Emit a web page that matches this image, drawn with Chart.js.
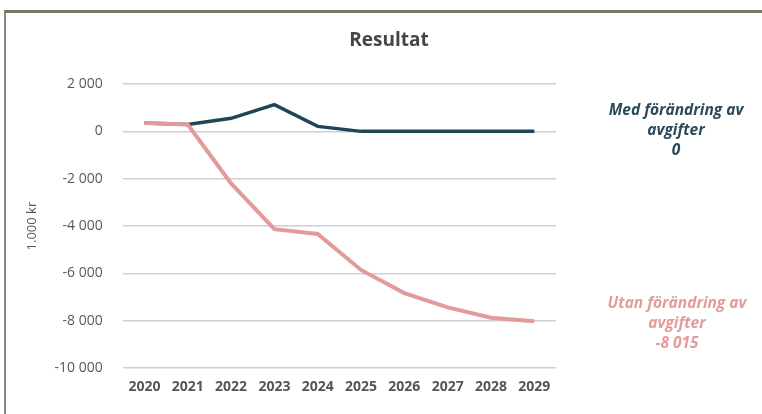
<!DOCTYPE html>
<html>
<head>
<meta charset="utf-8">
<script src="https://cdn.jsdelivr.net/npm/chart.js@4"></script>
<style>
  html, body { margin: 0; padding: 0; background: #fff; }
  #wrap { position: relative; width: 762px; height: 414px; overflow: hidden; }
  #frame { position: absolute; left: 4px; top: 10px; width: 770px; height: 420px;
           border-top: 3px solid #77776a; border-left: 2px solid #8a8a7c; }
  canvas { position: absolute; left: 0; top: 0; }
  #title { position: absolute; left: 289px; top: 26px; width: 200px; text-align: center;
           font-family: "Open Sans", sans-serif; font-weight: bold; font-size: 19px; color: #454545; }
  .note { position: absolute; width: 220px; text-align: center; font-family: "Open Sans", sans-serif;
          font-style: italic; font-weight: bold; font-size: 15.5px; line-height: 20px; }
  #med { left: 566px; top: 99px; color: #2b4a5a; }
  #utan { left: 567px; top: 292px; color: #e29c9c; }
</style>
</head>
<body>
<div id="wrap">
  <div id="frame"></div>
  <canvas id="resultChart" width="762" height="414"></canvas>
  <div id="title">Resultat</div>
  <div class="note" id="med">Med förändring av<br>avgifter<br>0</div>
  <div class="note" id="utan">Utan förändring av<br>avgifter<br>-8 015</div>
</div>
<script>
// Data
const years = ['2020', '2021', '2022', '2023', '2024', '2025', '2026', '2027', '2028', '2029'];
const medForandring = [350, 290, 550, 1130, 210, 0, 0, 0, 0, 0];
const utanForandring = [350, 290, -2200, -4130, -4330, -5850, -6830, -7430, -7870, -8015];

function formatKr(v) {
    const s = Math.abs(v).toString().replace(/\B(?=(\d{3})+(?!\d))/g, ' ');
    return (v < 0 ? '-' : '') + s;
}

const ctx = document.getElementById('resultChart').getContext('2d');
new Chart(ctx, {
    type: 'line',
    data: {
        labels: years,
        datasets: [
            {
                label: 'Utan förändring av avgifter',
                data: utanForandring,
                borderColor: '#e39a9a',
                borderWidth: 4,
                pointRadius: 0,
                tension: 0,
                order: 0
            },
            {
                label: 'Med förändring av avgifter',
                data: medForandring,
                borderColor: '#1f4558',
                borderWidth: 3.5,
                pointRadius: 0,
                tension: 0,
                order: 1
            }
        ]
    },
    options: {
        responsive: false,
        animation: false,
        layout: { padding: { left: 20, right: 206, top: 84, bottom: 17 } },
        plugins: {
            legend: { display: false },
            tooltip: { enabled: false },
            title: { display: false }
        },
        scales: {
            x: {
                offset: true,
                grid: { display: false },
                border: { display: false },
                ticks: {
                    color: '#555',
                    font: { family: 'Open Sans', size: 14, weight: 'bold' },
                    padding: 2
                }
            },
            y: {
                min: -10000,
                max: 2000,
                afterFit: scale => { scale.width -= 10; },
                grid: { color: '#cfcfcf', lineWidth: 1.5, drawTicks: false },
                border: { display: false },
                ticks: {
                    stepSize: 2000,
                    color: '#595959',
                    font: { family: 'Open Sans', size: 14 },
                    padding: 20,
                    callback: v => formatKr(v)
                },
                title: {
                    display: true,
                    text: '1.000 kr',
                    color: '#595959',
                    font: { family: 'Open Sans', size: 13 },
                    padding: { top: 4, bottom: 5 }
                }
            }
        }
    }
});
</script>
</body>
</html>
